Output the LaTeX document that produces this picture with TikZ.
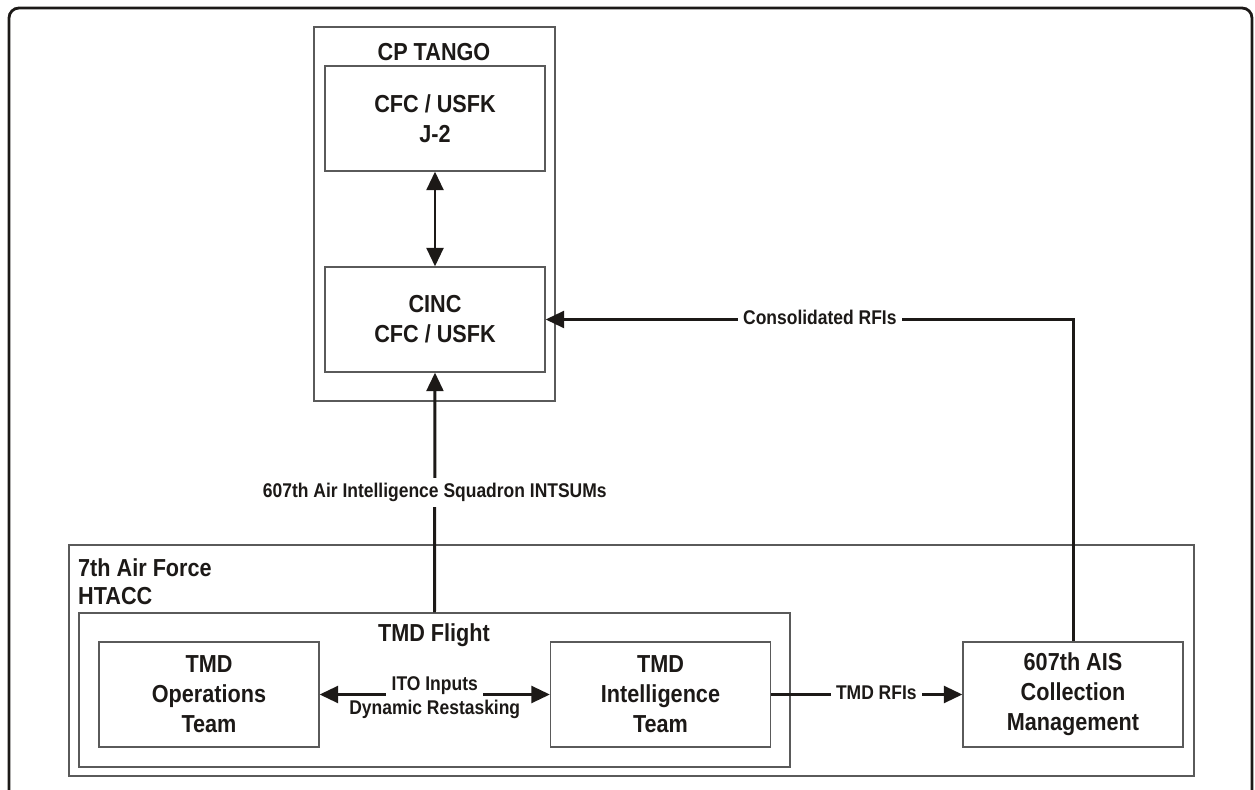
\documentclass[tikz,border=0pt]{standalone}
\usepackage{fontspec}
\setmainfont{Liberation Sans}[FakeStretch=0.88]
\usepackage{xcolor}
\usetikzlibrary{arrows.meta, positioning}
\definecolor{ink}{HTML}{1C1917}
\definecolor{edgegray}{HTML}{5A5A5A}

\begin{document}
\begin{tikzpicture}[x=0.02cm, y=-0.02cm, >={Triangle[length=10.5pt, width=9.5pt]},
  unit/.style={draw=edgegray, line width=0.7pt, minimum width=4.4cm, minimum height=2.1cm,
    align=center, font=\fontsize{14}{17}\selectfont\bfseries, text=ink},
  group/.style={draw=edgegray, line width=0.7pt, inner sep=0pt},
  title/.style={font=\fontsize{14}{16}\selectfont\bfseries, text=ink},
  lbl/.style={font=\fontsize{11.3}{13.7}\selectfont\bfseries, text=ink, fill=white, inner sep=3pt,
    text height=1.5ex, text depth=.4ex},
  flow/.style={->, line width=1.7pt, color=ink}]
\useasboundingbox (0,0) rectangle (1255,790);
\draw[ink, line width=1.6pt, rounded corners=0.2cm] (9,820) -- (9,8) -- (1252,8) -- (1252,820);

\node[group, minimum width=4.82cm, minimum height=7.48cm] (tango) at (434.5,214) {};
\node[title] at (434,52) {CP TANGO};
\node[unit] (jtwo) at (435,118.5) {CFC / USFK\\J-2};
\node[unit] (cinc) at (435,319.5) {CINC\\CFC / USFK};

\node[group, minimum width=22.5cm, minimum height=4.62cm] (htacc) at (631.5,660.5) {};
\node[title, anchor=north west, align=left] at (72,552) {7th Air Force\\HTACC};
\node[group, minimum width=14.22cm, minimum height=3.08cm] (flight) at (434.5,690) {};
\node[title] at (434,635) {TMD Flight};
\node[unit] (ops) at (209,694.5) {TMD\\Operations\\Team};
\node[unit] (intel) at (660.5,694.5) {TMD\\Intelligence\\Team};
\node[unit] (ais) at (1073,694.5) {607th AIS\\Collection\\Management};

\draw[flow, <->] (jtwo) -- (cinc);
\draw[flow] (flight.north) -- node[lbl] {607th Air Intelligence Squadron INTSUMs} (cinc.south);
\draw[flow] (ais.north) |- node[lbl, pos=0.74] {Consolidated RFIs} (cinc.east);
\draw[flow, <->] (ops) -- node[lbl, yshift=0.18cm] (ito) {ITO Inputs} (intel);
\node[lbl, fill=none] (dyn) at ([yshift=-0.48cm]ito.center) {Dynamic Restasking};
\draw[flow] (intel) -- node[lbl, pos=0.55] {TMD RFIs} (ais);
\end{tikzpicture}
\end{document}
